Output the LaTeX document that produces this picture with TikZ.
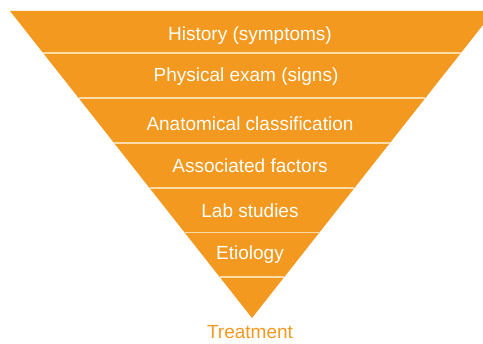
\documentclass[tikz,border=0pt]{standalone}
\usepackage{fontspec}
\setmainfont{Liberation Sans}
\usetikzlibrary{calc}
\definecolor{tri}{HTML}{F4991F}
\definecolor{sep}{HTML}{FBDCA8}
\begin{document}
\begin{tikzpicture}[x=1pt,y=-1pt,
  lbl/.style={anchor=base,text=white,inner sep=0pt,font=\fontsize{19}{22}\selectfont},
  seprule/.style={draw=sep,line width=1.8pt}]
\useasboundingbox (0,0) rectangle (483,344);
\begin{scope}
\clip (0,0) rectangle (483,344);
\coordinate (tl) at (10,11);
\coordinate (tr) at (494,11);
\coordinate (ap) at (252,318);
\fill[tri] (tl) -- (tr) -- (ap) -- cycle;
\foreach \y in {53,98,143,188,232.5,277}{
  \pgfmathsetmacro{\f}{(\y-11)/307}
  \draw[seprule] ($(tl)!\f!(ap)$) -- ($(tr)!\f!(ap)$);
}
\end{scope}
\node[lbl] (n1) at (250,41) {History (symptoms)};
\node[lbl] (n2) at (246,82) {Physical exam (signs)};
\node[lbl] (n3) at (250,131) {Anatomical classification};
\node[lbl] (n4) at (250,173) {Associated factors};
\node[lbl] (n5) at (250,218) {Lab studies};
\node[lbl] (n6) at (250,260) {Etiology};
\node[lbl,text=tri] (n7) at (250,339) {Treatment};
\end{tikzpicture}
\end{document}
